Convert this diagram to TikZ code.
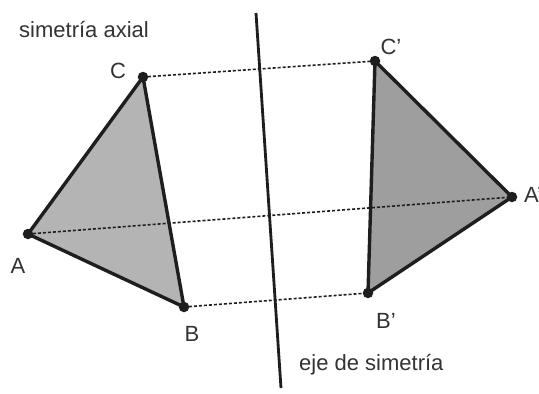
\documentclass[tikz,border=0pt]{standalone}
\usepackage{fontspec}
\setmainfont{Liberation Sans}
\usetikzlibrary{positioning}
\definecolor{fillleft}{HTML}{B4B4B4}
\definecolor{fillright}{HTML}{9E9E9E}
\definecolor{edgedark}{HTML}{1E1E1E}
\definecolor{textdark}{HTML}{333333}
\tikzset{
  pt/.style={circle, fill=edgedark, inner sep=0pt, minimum size=10.5pt},
  edge/.style={draw=edgedark, line width=3.4pt, line join=round},
  axisline/.style={draw=edgedark, line width=2.8pt},
  mirror/.style={draw=edgedark, line width=1.6pt, dash pattern=on 3pt off 2pt},
  lbl/.style={font=\fontsize{22}{25}\selectfont, text=textdark, inner sep=0pt}
}

\begin{document}
\begin{tikzpicture}[x=1pt, y=-1pt]
\clip (0,0) rectangle (539,394);
\fill[white] (0,0) rectangle (539,394);
% points
\coordinate (A) at (28,234);
\coordinate (B) at (184,307);
\coordinate (C) at (143,77);
\coordinate (A') at (512,197);
\coordinate (B') at (368,293);
\coordinate (C') at (375,61);
\coordinate (top) at (256,13);
\coordinate (bot) at (281,388);
% triangles
\fill[fillleft] (A) -- (B) -- (C) -- cycle;
\fill[fillright] (A') -- (B') -- (C') -- cycle;
\draw[mirror] (C) -- (C');
\draw[mirror] (A) -- (A');
\draw[mirror] (B) -- (B');
\draw[edge] (A) -- (B) -- (C) -- cycle;
\draw[edge] (A') -- (B') -- (C') -- cycle;
\draw[axisline] (top) -- (bot);
\foreach \p in {A,B,C,A',B',C'}
  \node[pt] at (\p) {};
% labels
\node[lbl, anchor=west] (title) at (19,30) {simetría axial};
\node[lbl] (lA) at (18,266) {A};
\node[lbl] (lB) at (192,334) {B};
\node[lbl] (lC) at (118,71) {C};
\node[lbl, anchor=west] (lA') at (524,195) {A'};
\node[lbl] (lB') at (386,321) {B'};
\node[lbl] (lC') at (391,47) {C'};
\node[lbl, anchor=west] (axis) at (299,365) {eje de simetría};
\end{tikzpicture}
\end{document}
